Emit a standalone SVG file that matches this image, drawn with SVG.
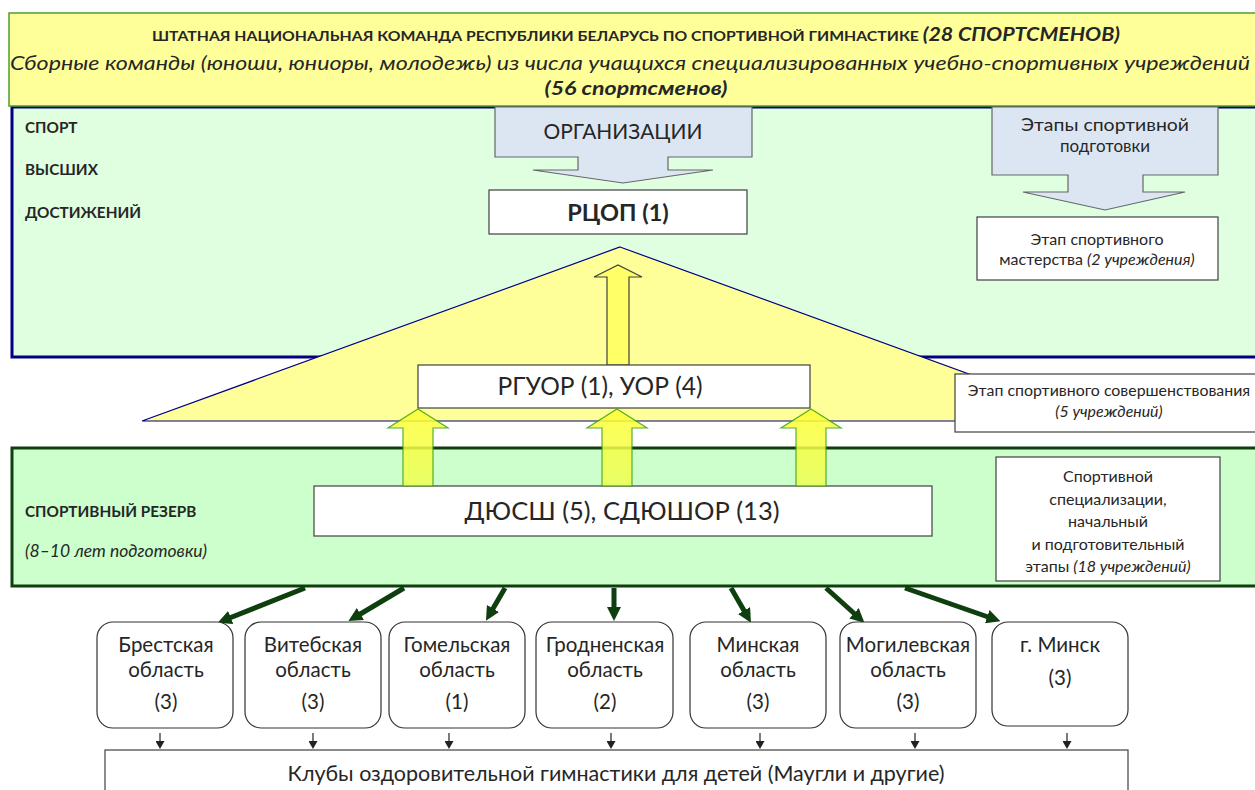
<svg xmlns="http://www.w3.org/2000/svg" width="1255" height="790" viewBox="0 0 1255 790">
<defs>
<style>
text{font-family:Lato,"Open Sans","Noto Sans",sans-serif;fill:#262626}
.box{fill:#fff;stroke:#404040;stroke-width:1.2}
.reg{fill:#fff;stroke:#333;stroke-width:1.2}
.bigarrow{fill:#dce6f2;stroke:#666;stroke-width:1.2}
.lbl{font-weight:bold;font-size:15.3px}
.c{text-anchor:middle}
.rt{font-size:20.5px}
.st{font-size:16px}
.thick{stroke:#0f3f0f;stroke-width:5;fill:none;marker-end:url(#hd)}
.thin{stroke:#222;stroke-width:1.2;fill:none;marker-end:url(#hs)}
.uparr{fill:url(#gy);stroke:#3aa30a;stroke-width:1.2;opacity:0.85}
</style>
<linearGradient id="gy" x1="0" y1="0" x2="0" y2="1">
<stop offset="0" stop-color="#ffff33"/>
<stop offset="1" stop-color="#eeff55"/>
</linearGradient>
<marker id="hd" markerUnits="userSpaceOnUse" viewBox="0 0 14 14" markerWidth="14" markerHeight="14" refX="4" refY="7" orient="auto">
<path d="M0,0 L14,7 L0,14 Z" fill="#0f3f0f"/>
</marker>
<marker id="hs" markerUnits="userSpaceOnUse" viewBox="0 0 8 9" markerWidth="8" markerHeight="9" refX="2" refY="4.5" orient="auto">
<path d="M0,0 L8,4.5 L0,9 Z" fill="#222"/>
</marker>
</defs>
<rect width="1255" height="790" fill="#fff"/>

<g id="upper-panel">
<rect x="12" y="107" width="1250" height="250" fill="#e0ffe0" stroke="#000080" stroke-width="3"/>
<text class="lbl" x="25" y="133">СПОРТ</text>
<text class="lbl" x="25" y="175">ВЫСШИХ</text>
<text class="lbl" x="25" y="218">ДОСТИЖЕНИЙ</text>
</g>

<g id="triangle">
<path d="M620,247 L1098,421 L142,421 Z" fill="#ffff99" stroke="#000080" stroke-width="1.2"/>
</g>

<g id="header">
<rect x="9" y="13" width="1255" height="93" fill="#ffff99" stroke="#4f9e2c" stroke-width="1.5"/>
<text class="c" x="636" y="41" textLength="968" lengthAdjust="spacingAndGlyphs"><tspan font-weight="bold" font-size="14">ШТАТНАЯ НАЦИОНАЛЬНАЯ КОМАНДА РЕСПУБЛИКИ БЕЛАРУСЬ ПО СПОРТИВНОЙ ГИМНАСТИКЕ </tspan><tspan font-weight="bold" font-style="italic" font-size="19">(28 СПОРТСМЕНОВ)</tspan></text>
<text class="c" x="630" y="70" font-style="italic" font-size="19.5" textLength="1240" lengthAdjust="spacingAndGlyphs">Сборные команды (юноши, юниоры, молодежь) из числа учащихся специализированных учебно-спортивных учреждений</text>
<text class="c" x="636" y="95" font-style="italic" font-weight="bold" font-size="19.5" textLength="183" lengthAdjust="spacingAndGlyphs">(56 спортсменов)</text>
</g>

<g id="org-arrow">
<path class="bigarrow" d="M495,107 H752 V157 H668 V170 H713 L623,183 L533,170 H578 V157 H495 Z"/>
<text class="c" x="623" y="139" font-size="22" textLength="159" lengthAdjust="spacingAndGlyphs">ОРГАНИЗАЦИИ</text>
</g>

<g id="stages-arrow">
<path class="bigarrow" d="M992,107 H1218 V175 H1143 V192 H1185 L1105,210 L1023,192 H1068 V175 H992 Z"/>
<text class="c" x="1105" y="131" font-size="17.5" textLength="168" lengthAdjust="spacingAndGlyphs">Этапы спортивной</text>
<text class="c" x="1105" y="152" font-size="17.5" textLength="90" lengthAdjust="spacingAndGlyphs">подготовки</text>
</g>

<g id="rcop">
<rect class="box" x="489" y="190" width="258" height="44"/>
<text class="c" x="618" y="221" font-size="23.5" font-weight="bold">РЦОП (1)</text>
</g>

<g id="stage-master">
<rect class="box" x="977" y="217" width="241" height="63"/>
<text class="c st" x="1097" y="245">Этап спортивного</text>
<text class="c st" x="1097" y="265">мастерства <tspan font-style="italic">(2 учреждения)</tspan></text>
</g>

<g id="up-arrow-top">
<path d="M607,365 V277 H594 L618,265 L642,277 H629 V365 Z" fill="#ffff66" stroke="#404040" stroke-width="1.2"/>
</g>

<g id="rguor">
<rect class="box" x="418" y="365" width="392" height="43"/>
<text class="c" x="600" y="395" font-size="24.5">РГУОР (1), УОР (4)</text>
</g>

<g id="stage-perfect">
<rect class="box" x="955" y="374" width="310" height="58"/>
<text class="c" x="1109" y="396" font-size="15.9">Этап спортивного совершенствования</text>
<text class="c" x="1109" y="417" font-size="15.9" font-style="italic">(5 учреждений)</text>
</g>

<g id="lower-band">
<rect x="12" y="448" width="1250" height="138" fill="#ccffcc" stroke="#0f3f0f" stroke-width="3"/>
<text class="lbl" x="25" y="517" font-size="15.6">СПОРТИВНЫЙ РЕЗЕРВ</text>
<text x="25" y="557" font-size="17.5" font-style="italic">(8–10 лет подготовки)</text>
</g>

<g id="dyussh">
<rect class="box" x="314" y="486" width="618" height="50"/>
<text class="c" x="622" y="520" font-size="25.5">ДЮСШ (5), СДЮШОР (13)</text>
</g>

<g id="stage-spec">
<rect class="box" x="996" y="457" width="224" height="124"/>
<text class="c st" x="1108" y="482">Спортивной</text>
<text class="c st" x="1108" y="505">специализации,</text>
<text class="c st" x="1108" y="527">начальный</text>
<text class="c st" x="1108" y="550">и подготовительный</text>
<text class="c st" x="1108" y="572">этапы <tspan font-style="italic">(18 учреждений)</tspan></text>
</g>

<g id="connectors">
<path class="uparr" d="M403,486 V428 H388 L418,409 L448,428 H433 V486 Z"/>
<path class="uparr" d="M602,486 V428 H587 L617,409 L647,428 H632 V486 Z"/>
<path class="uparr" d="M796,486 V428 H781 L811,409 L841,428 H826 V486 Z"/>
<line class="thick" x1="305" y1="588" x2="227" y2="619"/>
<line class="thick" x1="404" y1="588" x2="357" y2="616"/>
<line class="thick" x1="505" y1="588" x2="491" y2="612"/>
<line class="thick" x1="614" y1="588" x2="614" y2="611"/>
<line class="thick" x1="731" y1="588" x2="746" y2="614"/>
<line class="thick" x1="826" y1="588" x2="857" y2="616"/>
<line class="thick" x1="905" y1="588" x2="991" y2="618"/>
<line class="thin" x1="160" y1="733" x2="160" y2="743"/>
<line class="thin" x1="313" y1="733" x2="313" y2="743"/>
<line class="thin" x1="449" y1="733" x2="449" y2="743"/>
<line class="thin" x1="611" y1="733" x2="611" y2="743"/>
<line class="thin" x1="760" y1="733" x2="760" y2="743"/>
<line class="thin" x1="915" y1="733" x2="915" y2="743"/>
<line class="thin" x1="1067" y1="733" x2="1067" y2="743"/>
</g>

<g id="brest">
<rect class="reg" x="97" y="622" width="136" height="106" rx="16"/>
<text class="c rt" x="166" y="652">Брестская</text>
<text class="c rt" x="166" y="677">область</text>
<text class="c rt" x="166" y="709">(3)</text>
</g>
<g id="vitebsk">
<rect class="reg" x="245" y="622" width="136" height="106" rx="16"/>
<text class="c rt" x="313" y="652">Витебская</text>
<text class="c rt" x="313" y="677">область</text>
<text class="c rt" x="313" y="709">(3)</text>
</g>
<g id="gomel">
<rect class="reg" x="389" y="622" width="136" height="106" rx="16"/>
<text class="c rt" x="457" y="652">Гомельская</text>
<text class="c rt" x="457" y="677">область</text>
<text class="c rt" x="457" y="709">(1)</text>
</g>
<g id="grodno">
<rect class="reg" x="536" y="622" width="137" height="106" rx="16"/>
<text class="c rt" x="605" y="652">Гродненская</text>
<text class="c rt" x="605" y="677">область</text>
<text class="c rt" x="605" y="709">(2)</text>
</g>
<g id="minsk-reg">
<rect class="reg" x="690" y="622" width="136" height="106" rx="16"/>
<text class="c rt" x="758" y="652">Минская</text>
<text class="c rt" x="758" y="677">область</text>
<text class="c rt" x="758" y="709">(3)</text>
</g>
<g id="mogilev">
<rect class="reg" x="840" y="622" width="136" height="106" rx="16"/>
<text class="c rt" x="908" y="652">Могилевская</text>
<text class="c rt" x="908" y="677">область</text>
<text class="c rt" x="908" y="709">(3)</text>
</g>
<g id="minsk-city">
<rect class="reg" x="992" y="622" width="136" height="104" rx="16"/>
<text class="c rt" x="1060" y="652">г. Минск</text>
<text class="c rt" x="1060" y="685">(3)</text>
</g>

<g id="clubs">
<rect class="box" x="105" y="750" width="1023" height="50"/>
<text class="c" x="616" y="781" font-size="21.5">Клубы оздоровительной гимнастики для детей (Маугли и другие)</text>
</g>
</svg>
